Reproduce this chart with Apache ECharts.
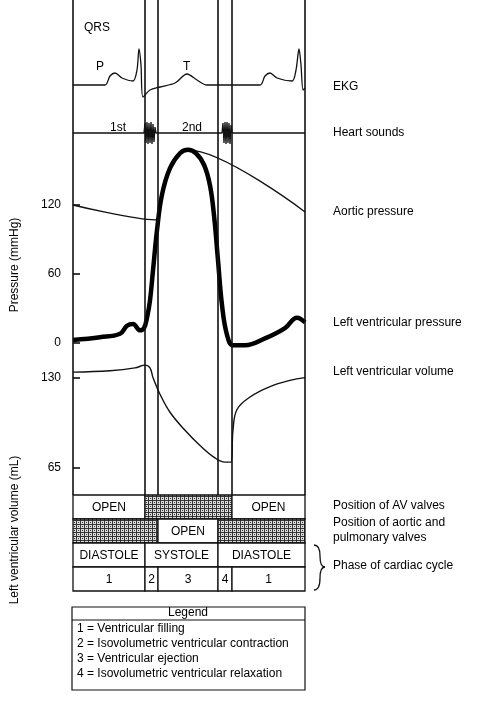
<!DOCTYPE html><html><head><meta charset="utf-8">
<script src="https://cdn.jsdelivr.net/npm/echarts@6/dist/echarts.min.js"></script>
<style>html,body{margin:0;background:#fff}#c{width:477px;height:702px}</style></head><body><div id="c"></div>
<script>
// time t (arbitrary units, 0..232)
const ekg = [[0,0],[32,0],[37,9],[42,12],[49,7],[60,4],[64,15],[66,36],[68,20],[70,-12],[77,-5],[87,-2],[102,2],[114,11],[124,5],[134,0],[187,0],[192,9],[197,12],[204,7],[219,4],[223,15],[226,36],[228,20],[230,-5],[232,-3]];
const heartSounds = [[0,-48],[71,-48],[72,-38],[73,-58],[74,-37],[75,-59],[76,-38],[77,-58],[78,-37],[79,-59],[80,-39],[81,-57],[82,-42],[83,-48],[149,-48],[150,-38],[151,-58],[152,-37],[153,-59],[154,-37],[155,-58],[156,-38],[157,-59],[158,-40],[159,-48],[232,-48]];
const lvPressure = [[0,2.6],[27,5],[47,8],[54,15],[60,16.5],[67,11],[71,13],[74,22],[77,37],[80,63],[84,98],[89,129],[97,152],[107,165],[115,168],[123,165],[131,155],[137,137],[141,111],[145,72],[149,33],[154,7],[160,-2],[172,-2],[192,4],[212,13],[224,22],[232,18]];
const aorticPressure = [[0,120],[82,107],[89,129],[97,152],[107,165],[115,168],[232,114]];
const lvVolume = [[0,134],[37,135],[62,137],[72,139],[77,137],[80,130],[87,118],[97,105],[112,92],[127,81],[142,72],[152,69],[158,69],[160,92],[164,107],[177,116],[197,123.5],[217,128],[232,130]];
const pressureTicks = [0,60,120];
const volumeTicks = [65,130];
const phaseLines = [0,72,85,145,159,232];
const rows = ['AV','Aortic','Phase','Num'];
// [x0,x1,row,label,hatched]
const cells = [
 [0,72,0,'OPEN',0],[72,159,0,'',1],[159,232,0,'OPEN',0],
 [0,85,1,'',1],[85,145,1,'OPEN',0],[145,232,1,'',1],
 [0,72,2,'DIASTOLE',0],[72,145,2,'SYSTOLE',0],[145,232,2,'DIASTOLE',0],
 [0,72,3,'1',0],[72,85,3,'2',0],[85,145,3,'3',0],[145,159,3,'4',0],[159,232,3,'1',0]];
const legendLines = ['1 = Ventricular filling','2 = Isovolumetric ventricular contraction','3 = Ventricular ejection','4 = Isovolumetric ventricular relaxation'];

const F = 'Liberation Sans, Arial, sans-serif';
const cv = document.createElement('canvas'); cv.width = 4; cv.height = 4;
const g = cv.getContext('2d'); g.fillStyle='#ddd'; g.fillRect(0,0,4,4); g.fillStyle='#333';
g.fillRect(0,0,4,1); g.fillRect(0,0,1,4); g.fillRect(2,2,1,1);
const hatch = {image: cv, repeat: 'repeat'};

const L=73, R=172;
const xa = i => ({type:'value',gridIndex:i,min:0,max:232,show:false});
const txt = (x,y,s) => ({type:'text',x:x,y:y,style:{text:s,font:'12px '+F,fill:'#000',verticalAlign:'middle'}});
const chart = echarts.init(document.getElementById('c'));
chart.setOption({
 animation:false,
 grid:[
  {left:L,right:R,top:0,height:160},
  {left:L,right:R,top:136,height:207},
  {left:L,right:R,top:343,height:152},
  {left:L,right:R,top:495,height:96},
  {left:L,right:R,top:0,height:495}
 ],
 xAxis:[xa(0),xa(1),xa(2),xa(3),xa(4)],
 yAxis:[
  {type:'value',gridIndex:0,min:-75,max:85,show:false},
  {type:'value',gridIndex:1,min:0,max:180,splitLine:{show:false},axisLine:{show:false},
   axisTick:{show:true,inside:true,length:7,customValues:pressureTicks,lineStyle:{color:'#000',width:1.5}},
   axisLabel:{customValues:pressureTicks,color:'#000',fontFamily:F,fontSize:12,margin:12}},
  {type:'value',gridIndex:2,min:45.25,max:155,splitLine:{show:false},axisLine:{show:false},
   axisTick:{show:true,inside:true,length:7,customValues:volumeTicks,lineStyle:{color:'#000',width:1.5}},
   axisLabel:{customValues:volumeTicks,color:'#000',fontFamily:F,fontSize:12,margin:12}},
  {type:'category',gridIndex:3,data:rows,inverse:true,show:false},
  {type:'value',gridIndex:4,min:0,max:1,show:false}
 ],
 series:[
  {type:'line',xAxisIndex:0,yAxisIndex:0,data:ekg,smooth:0.3,symbol:'none',lineStyle:{color:'#111',width:1.3}},
  {type:'line',xAxisIndex:0,yAxisIndex:0,data:heartSounds,symbol:'none',lineStyle:{color:'#111',width:1.3}},
  {type:'line',xAxisIndex:1,yAxisIndex:1,data:aorticPressure,smooth:0.3,symbol:'none',clip:false,lineStyle:{color:'#111',width:1.3}},
  {type:'line',xAxisIndex:1,yAxisIndex:1,data:lvPressure,smooth:0.4,symbol:'none',clip:false,lineStyle:{color:'#000',width:4.5}},
  {type:'line',xAxisIndex:2,yAxisIndex:2,data:lvVolume,smooth:0.4,symbol:'none',clip:false,lineStyle:{color:'#111',width:1.4}},
  {type:'line',xAxisIndex:4,yAxisIndex:4,data:[],markLine:{silent:true,symbol:'none',label:{show:false},
    lineStyle:{color:'#111',width:1.6,type:'solid'},data:phaseLines.map(v=>({xAxis:v}))}},
  {type:'custom',xAxisIndex:3,yAxisIndex:3,data:cells,renderItem:(p,api)=>{
    const a=api.coord([api.value(0),api.value(2)]), b=api.coord([api.value(1),api.value(2)]);
    const h=api.size([0,1])[1];
    const c=cells[p.dataIndex];
    return {type:'group',children:[
      {type:'rect',shape:{x:a[0],y:a[1]-h/2,width:b[0]-a[0],height:h},style:{fill:c[4]?hatch:'#fff',stroke:'#111',lineWidth:1.3}},
      {type:'text',style:{text:c[3],x:(a[0]+b[0])/2,y:a[1]+1,align:'center',verticalAlign:'middle',font:'12px '+F,fill:'#000'}}]};
  }}
 ],
 graphic:[
  txt(84,28,'QRS'), txt(96,67,'P'), txt(183,67,'T'), txt(110,128,'1st'), txt(182,128,'2nd'),
  txt(333,87,'EKG'), txt(333,133,'Heart sounds'), txt(333,212,'Aortic pressure'),
  txt(333,323,'Left ventricular pressure'), txt(333,372,'Left ventricular volume'),
  txt(333,506,'Position of AV valves'), txt(333,523,'Position of aortic and'), txt(333,538,'pulmonary valves'),
  txt(333,566,'Phase of cardiac cycle'),
  {type:'bezierCurve',shape:{x1:314,y1:545,cpx1:320,cpy1:545,x2:320,y2:556},style:{fill:'none',stroke:'#111',lineWidth:1.3}},
  {type:'bezierCurve',shape:{x1:320,y1:556,cpx1:320,cpy1:567,x2:325,y2:567},style:{fill:'none',stroke:'#111',lineWidth:1.3}},
  {type:'bezierCurve',shape:{x1:325,y1:567,cpx1:320,cpy1:567,x2:320,y2:578},style:{fill:'none',stroke:'#111',lineWidth:1.3}},
  {type:'bezierCurve',shape:{x1:320,y1:578,cpx1:320,cpy1:590,x2:314,y2:590},style:{fill:'none',stroke:'#111',lineWidth:1.3}},
  {type:'text',x:15,y:265,rotation:Math.PI/2,style:{text:'Pressure (mmHg)',font:'12px '+F,fill:'#000',align:'center',verticalAlign:'middle'}},
  {type:'text',x:15,y:530,rotation:Math.PI/2,style:{text:'Left ventricular volume (mL)',font:'12px '+F,fill:'#000',align:'center',verticalAlign:'middle'}},
  {type:'rect',shape:{x:72,y:607,width:233,height:83},style:{fill:'none',stroke:'#111',lineWidth:1.2}},
  {type:'line',shape:{x1:72,y1:620,x2:305,y2:620},style:{stroke:'#111',lineWidth:1}},
  {type:'text',x:188,y:613,style:{text:'Legend',font:'12px '+F,fill:'#000',align:'center',verticalAlign:'middle'}},
  ...legendLines.map((s,i)=>txt(77,629+i*15,s))
 ]
});
</script></body></html>
